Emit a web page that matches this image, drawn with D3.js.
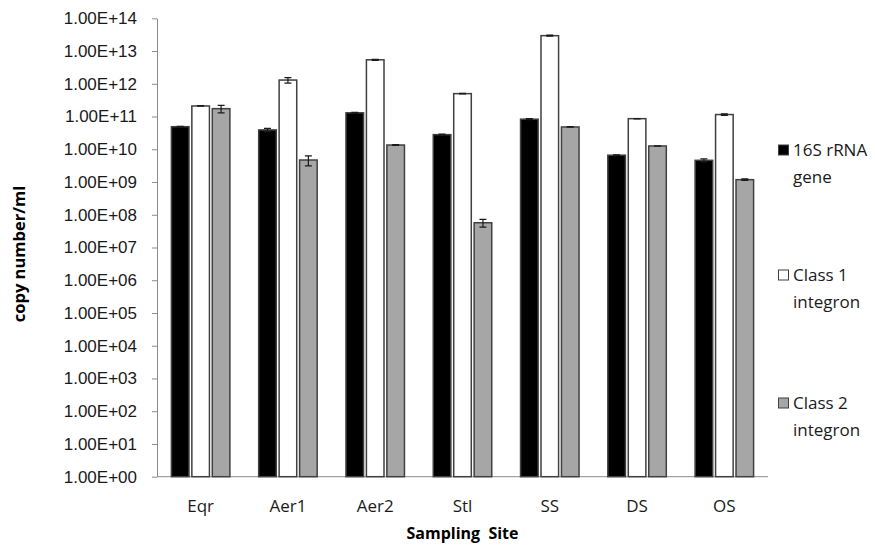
<!DOCTYPE html>
<html lang="en">
<head>
  <meta charset="UTF-8" />
  <title>copy number per sampling site</title>
  <script src="https://d3js.org/d3.v7.min.js"></script>
  <style>
    body {
      margin: 0;
      background: #fff;
      font-family: "Open Sans", Arial, sans-serif;
    }
    .axis path, .axis line {
      stroke: #8c8c8c;
    }
    .axis text {
      font-size: 17px;
      fill: #1a1a1a;
    }
    .bar {
      stroke: #404040;
      stroke-width: 1.5;
    }
    .err {
      stroke: #1a1a1a;
      stroke-width: 1.2;
      fill: none;
    }
  </style>
</head>
<body>
<script>
  // sites on the x axis
  var sites = ["Eqr", "Aer1", "Aer2", "Stl", "SS", "DS", "OS"];
  var seriesNames = ["16S rRNA gene", "Class 1 integron", "Class 2 integron"];
  var seriesLabels = [["16S rRNA", "gene"], ["Class 1", "integron"], ["Class 2", "integron"]];
  var seriesColors = ["#000000", "#ffffff", "#a6a6a6"];

  // means (copy number/ml)
  var rRNA16S = [4.9e10, 3.9e10, 1.3e11, 2.8e10, 8.3e10, 6.6e9, 4.6e9];
  var class1 = [2.1e11, 1.3e12, 5.4e12, 5.0e11, 2.95e13, 8.6e10, 1.15e11];
  var class2 = [1.74e11, 4.7e9, 1.35e10, 5.7e7, 4.8e10, 1.26e10, 1.18e9];

  // standard deviations
  var rRNA16Serr = [1.5e9, 4.5e9, 4e9, 1.2e9, 3e9, 2e8, 5e8];
  var class1err = [4e9, 2.5e11, 2e11, 1e10, 1.2e12, 1e9, 6e9];
  var class2err = [4.5e10, 1.6e9, 4e8, 1.5e7, 1e9, 2e8, 6e7];

  var yTicks = d3.range(0, 15).map(function (p) { return Math.pow(10, p); });

  var values = [rRNA16S, class1, class2];
  var errors = [rRNA16Serr, class1err, class2err];

  var rows = [];
  sites.forEach(function (s, i) {
    for (var k = 0; k < 3; k++) {
      rows.push({ site: s, series: k, value: values[k][i], err: errors[k][i] });
    }
  });

  var W = 875, H = 545;
  var plotL = 157, plotR = 768, plotT = 18.3, plotB = 476.7;

  var svg = d3.select("body").append("svg")
    .attr("width", W)
    .attr("height", H);

  var x = d3.scaleBand()
    .domain(sites)
    .range([plotL, plotR])
    .paddingInner(0.33)
    .paddingOuter(0.165);

  var xs = d3.scaleBand()
    .domain([0, 1, 2])
    .range([0, x.bandwidth()])
    .paddingInner(0.14);

  var y = d3.scaleLog()
    .domain([1, 1e14])
    .range([plotB, plotT]);

  // x axis line (no ticks)
  svg.append("line")
    .attr("x1", plotL).attr("x2", plotR)
    .attr("y1", plotB).attr("y2", plotB)
    .attr("stroke", "#8c8c8c");

  // y axis
  var yAxis = d3.axisLeft(y)
    .tickValues(yTicks)
    .tickSize(5)
    .tickSizeOuter(0)
    .tickPadding(15)
    .tickFormat(function (d) {
      var p = Math.round(Math.log10(d));
      return "1.00E+" + (p < 10 ? "0" + p : p);
    });

  svg.append("g")
    .attr("class", "axis")
    .attr("transform", "translate(" + plotL + ",0)")
    .call(yAxis);

  // bars
  svg.selectAll(".bar")
    .data(rows)
    .enter().append("rect")
    .attr("class", "bar")
    .attr("x", function (d) { return x(d.site) + xs(d.series); })
    .attr("y", function (d) { return y(d.value); })
    .attr("width", xs.bandwidth())
    .attr("height", function (d) { return plotB - y(d.value); })
    .attr("fill", function (d) { return seriesColors[d.series]; });

  // error bars
  var cap = 3.5;
  svg.selectAll(".err")
    .data(rows)
    .enter().append("path")
    .attr("class", "err")
    .attr("d", function (d) {
      var cx = x(d.site) + xs(d.series) + xs.bandwidth() / 2;
      var y1 = y(d.value + d.err);
      var y0 = y(Math.max(d.value - d.err, 1));
      return "M" + (cx - cap) + "," + y1 + "H" + (cx + cap) +
        "M" + cx + "," + y1 + "V" + y0 +
        "M" + (cx - cap) + "," + y0 + "H" + (cx + cap);
    });

  // category labels
  svg.selectAll(".site-label")
    .data(sites)
    .enter().append("text")
    .attr("class", "site-label")
    .attr("x", function (d) { return x(d) + x.bandwidth() / 2; })
    .attr("y", 512)
    .attr("text-anchor", "middle")
    .style("font-size", "17px")
    .style("fill", "#1a1a1a")
    .text(function (d) { return d; });

  // axis titles
  svg.append("text")
    .attr("x", (plotL + plotR) / 2)
    .attr("y", 539)
    .attr("text-anchor", "middle")
    .style("font-size", "16px")
    .style("font-weight", "bold")
    .style("white-space", "pre")
    .text("Sampling  Site");

  svg.append("text")
    .attr("transform", "translate(25,254) rotate(-90)")
    .attr("text-anchor", "middle")
    .style("font-size", "16.5px")
    .style("font-weight", "bold")
    .text("copy number/ml");

  // legend
  var legendY = [150, 275, 403];
  var lg = svg.selectAll(".legend")
    .data(seriesNames)
    .enter().append("g")
    .attr("class", "legend")
    .attr("transform", function (d, i) { return "translate(778," + legendY[i] + ")"; });

  lg.append("rect")
    .attr("x", 0.5).attr("y", -5)
    .attr("width", 10).attr("height", 10)
    .attr("fill", function (d, i) { return seriesColors[i]; })
    .attr("stroke", "#404040")
    .attr("stroke-width", 1);

  lg.append("text")
    .attr("x", 15)
    .attr("y", 6)
    .style("font-size", "17px")
    .style("fill", "#1a1a1a")
    .selectAll("tspan")
    .data(function (d, i) { return seriesLabels[i]; })
    .enter().append("tspan")
    .attr("x", 15)
    .attr("dy", function (d, j) { return j === 0 ? 0 : 27; })
    .text(function (d) { return d; });
</script>
</body>
</html>
